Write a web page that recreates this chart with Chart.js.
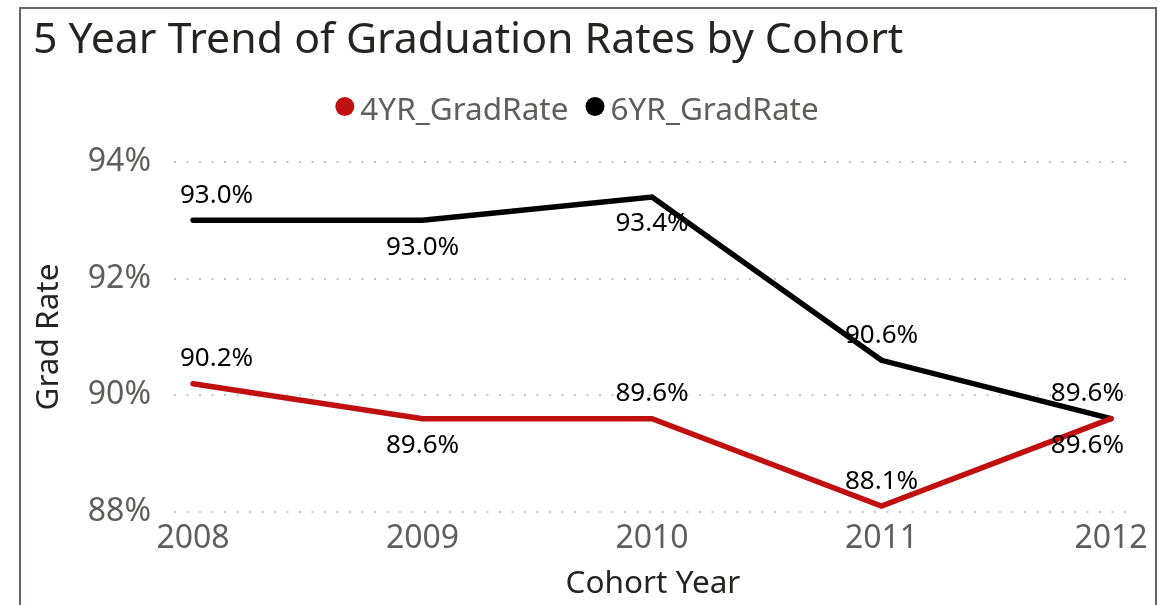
<!DOCTYPE html>
<html>
<head>
<meta charset="utf-8">
<script src="https://cdn.jsdelivr.net/npm/chart.js@4/dist/chart.umd.min.js"></script>
<style>
  html, body { margin: 0; padding: 0; background: #ffffff; overflow: hidden; }
  #wrap { position: relative; width: 1159px; height: 605px; }
  #frame { position: absolute; left: 19px; top: 7px; width: 1134px; height: 640px;
           border: 2px solid #6b6365; box-sizing: content-box; }
  canvas { position: absolute; left: 0; top: 0; }
</style>
</head>
<body>
<div id="wrap">
  <div id="frame"></div>
  <canvas id="c" width="1159" height="605"></canvas>
</div>
<script>
// ---- data ----
const cohortYears = [2008, 2009, 2010, 2011, 2012];
const gradRate4yr = [90.2, 89.6, 89.6, 88.1, 89.6];
const gradRate6yr = [93.0, 93.0, 93.4, 90.6, 89.6];
const seriesNames = ['4YR_GradRate', '6YR_GradRate'];
const yTickValues = [88, 90, 92, 94];
const chartTitle = '5 Year Trend of Graduation Rates by Cohort';
const xAxisTitle = 'Cohort Year';
const yAxisTitle = 'Grad Rate';
// label placement (above / below the point) per series
const labelSide4yr = ['above', 'below', 'above', 'above', 'below'];
const labelSide6yr = ['above', 'below', 'below', 'above', 'above'];

const FONT = '"Noto Sans", "Open Sans", sans-serif';

const titlePlugin = {
  id: 'customTitle',
  afterDraw(chart) {
    const ctx = chart.ctx;
    ctx.save();
    ctx.font = '42.8px ' + FONT;
    ctx.fillStyle = '#252423';
    ctx.textAlign = 'left';
    ctx.textBaseline = 'alphabetic';
    ctx.fillText(chartTitle, 33, 53);
    ctx.restore();
  }
};

const legendPlugin = {
  id: 'customLegend',
  afterDraw(chart) {
    const ctx = chart.ctx;
    ctx.save();
    ctx.font = '31.5px ' + FONT;
    const r = 9.5, gapDotText = 6, gapItems = 17;
    const items = chart.data.datasets.map(ds => ({
      label: ds.label, color: ds.borderColor, w: ctx.measureText(ds.label).width
    }));
    let total = 0;
    items.forEach((it, i) => { total += 2 * r + gapDotText + it.w + (i ? gapItems : 0); });
    let x = 577 - total / 2;
    const cy = 106.5, baseline = 120;
    items.forEach((it, i) => {
      if (i) x += gapItems;
      ctx.beginPath();
      ctx.fillStyle = it.color;
      ctx.arc(x + r, cy, r, 0, Math.PI * 2);
      ctx.fill();
      x += 2 * r + gapDotText;
      ctx.fillStyle = '#605e5c';
      ctx.textAlign = 'left';
      ctx.textBaseline = 'alphabetic';
      ctx.fillText(it.label, x, baseline);
      x += it.w;
    });
    ctx.restore();
  }
};

const dataLabelPlugin = {
  id: 'dataLabels',
  afterDatasetsDraw(chart) {
    const ctx = chart.ctx;
    const area = chart.chartArea;
    ctx.save();
    ctx.font = '26px ' + FONT;
    ctx.fillStyle = '#000000';
    ctx.textAlign = 'left';
    ctx.textBaseline = 'middle';
    chart.data.datasets.forEach((ds, di) => {
      const meta = chart.getDatasetMeta(di);
      meta.data.forEach((pt, i) => {
        const txt = ds.data[i].y.toFixed(1) + '%';
        const w = ctx.measureText(txt).width;
        let x = pt.x - w / 2;
        x = Math.max(area.left + 6, Math.min(area.right - 8 - w, x));
        const side = ds.labelSides[i];
        const y = side === 'above' ? pt.y - 25 : pt.y + 27;
        ctx.fillText(txt, x, y);
      });
    });
    ctx.restore();
  }
};

const toPoints = vals => cohortYears.map((yr, i) => ({ x: yr, y: vals[i] }));

new Chart(document.getElementById('c'), {
  type: 'line',
  data: {
    datasets: [
      {
        label: seriesNames[0],
        data: toPoints(gradRate4yr),
        labelSides: labelSide4yr,
        borderColor: '#c00f0f',
        backgroundColor: '#c00f0f',
        borderWidth: 5.5,
        borderCapStyle: 'round',
        borderJoinStyle: 'miter',
        pointRadius: 0,
        tension: 0
      },
      {
        label: seriesNames[1],
        data: toPoints(gradRate6yr),
        labelSides: labelSide6yr,
        borderColor: '#000000',
        backgroundColor: '#000000',
        borderWidth: 5.5,
        borderCapStyle: 'round',
        borderJoinStyle: 'miter',
        pointRadius: 0,
        tension: 0
      }
    ]
  },
  options: {
    responsive: false,
    animation: false,
    devicePixelRatio: 1,
    layout: { padding: { left: 33, right: 27, top: 162, bottom: 0 } },
    plugins: {
      legend: { display: false },
      title: { display: false },
      tooltip: { enabled: false }
    },
    scales: {
      x: {
        type: 'linear',
        min: 2007.917,
        max: 2012.0915,
        afterBuildTicks: axis => { axis.ticks = cohortYears.map(v => ({ value: v })); },
        afterFit: s => { s.height = 93; },
        grid: { display: false, drawTicks: false },
        border: { display: false },
        ticks: {
          color: '#605e5c',
          font: { family: FONT, size: 32 },
          padding: 8,
          maxRotation: 0,
          autoSkip: false,
          callback: v => String(v)
        },
        title: {
          display: true,
          text: xAxisTitle,
          color: '#252423',
          font: { family: FONT, size: 31.5, lineHeight: 1 },
          padding: { top: 0, bottom: 5 }
        }
      },
      y: {
        min: 88,
        max: 94,
        afterBuildTicks: axis => { axis.ticks = yTickValues.map(v => ({ value: v })); },
        afterFit: s => { s.width = 141; },
        grid: {
          color: '#c8c6c4',
          lineWidth: 2,
          drawTicks: false
        },
        border: { display: false, dash: [2, 10.5] },
        ticks: {
          color: '#605e5c',
          font: { family: FONT, size: 32 },
          padding: 23,
          callback: v => v + '%'
        },
        title: {
          display: true,
          text: yAxisTitle,
          color: '#252423',
          font: { family: FONT, size: 31.5, lineHeight: 1 },
          padding: { top: 0, bottom: 0 }
        }
      }
    }
  },
  plugins: [titlePlugin, legendPlugin, dataLabelPlugin]
});
</script>
</body>
</html>
